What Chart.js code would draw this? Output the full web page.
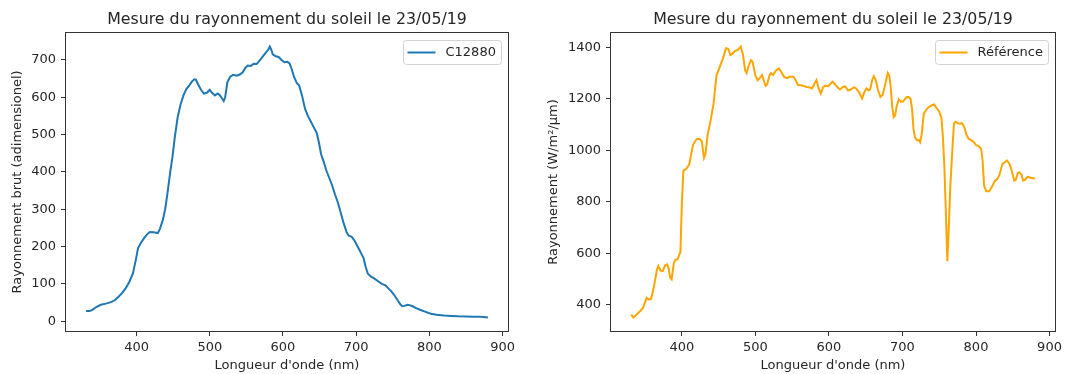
<!DOCTYPE html>
<html lang="fr">
<head>
<meta charset="utf-8">
<title>Mesure du rayonnement du soleil</title>
<script src="https://cdn.jsdelivr.net/npm/chart.js@4"></script>
<style>
  html, body { margin: 0; padding: 0; background: #fff; }
  .wrap { position: relative; width: 1076px; height: 374px; }
  canvas { position: absolute; top: 0; }
  #chartCapteur { left: 0; }
  #chartReference { left: 538px; }
</style>
</head>
<body>
<div class="wrap">
  <canvas id="chartCapteur" width="538" height="374"></canvas>
  <canvas id="chartReference" width="538" height="374"></canvas>
</div>
<script>
// Spectre brut du capteur C12880
const longueursCapteur = [
  331, 336, 340, 345, 351, 358, 365, 370, 375, 380,
  385, 390, 395, 399, 402, 406, 410, 414, 418, 423,
  429, 432, 436, 439, 442, 446, 449, 452, 456, 460,
  464, 468, 472, 476, 479, 481, 484, 488, 492, 496,
  500, 503, 507, 511, 514, 517, 519, 521, 524, 528,
  532, 537, 541, 545, 549, 552, 556, 560, 564, 568,
  572, 576, 580, 582, 584, 586, 590, 594, 598, 602,
  606, 609, 612, 615, 619, 622, 626, 630, 634, 638,
  642, 646, 649, 652, 656, 659, 663, 667, 671, 675,
  679, 683, 687, 690, 694, 698, 702, 706, 710, 713,
  716, 720, 725, 730, 735, 740, 744, 748, 752, 756,
  760, 763, 766, 770, 773, 777, 782, 788, 795, 802,
  810, 820, 830, 840, 850, 860, 870, 880
];
const rayonnementCapteur = [
  27, 27, 31, 38, 44, 47, 51, 56, 65, 75,
  88, 105, 128, 165, 196, 210, 222, 232, 239, 238,
  236, 248, 272, 300, 340, 400, 440, 490, 545, 580,
  605, 622, 632, 643, 648, 647, 635, 620, 610, 612,
  620, 612, 605, 610, 605, 596, 590, 600, 640, 655,
  660, 658, 661, 667, 680, 685, 684, 690, 689, 698,
  708, 718, 728, 736, 728, 715, 710, 708, 700, 694,
  695, 691, 675, 655, 638, 632, 605, 570, 550, 535,
  520, 505, 480, 448, 425, 405, 385, 365, 340, 318,
  290, 262, 238, 229, 226, 215, 200, 185, 170, 145,
  127, 120, 114, 107, 100, 96, 88, 80, 70, 58,
  46, 40, 41, 44, 43, 40, 35, 30, 25, 20,
  17, 15, 14, 13, 12.5, 12, 12, 10
];

// Spectre de référence (W/m²/µm)
const longueursReference = [
  331, 334, 338, 343, 347, 352, 355, 358, 362, 366,
  368, 371, 374, 377, 380, 382, 384, 386, 389, 391,
  394, 396, 398, 400, 402, 406, 410, 415, 420, 424,
  427, 430, 432, 435, 439, 443, 447, 451, 455, 460,
  463, 466, 469, 472, 476, 480, 483, 486, 488, 491,
  494, 496, 500, 503, 506, 509, 512, 514, 516, 519,
  521, 524, 528, 532, 535, 539, 543, 547, 552, 555,
  558, 562, 566, 570, 574, 577, 581, 583, 586, 589,
  592, 595, 599, 602, 605, 609, 612, 615, 619, 622,
  626, 630, 634, 637, 641, 645, 648, 651, 654, 656,
  659, 661, 664, 667, 670, 673, 676, 680, 682, 684,
  686, 688, 690, 692, 695, 698, 701, 705, 708, 711,
  713, 715, 717, 720, 722, 724, 726, 729, 733, 736,
  740, 743, 747, 750, 753, 755, 757, 759, 761, 763,
  765, 768, 770, 772, 775, 778, 781, 784, 787, 790,
  793, 797, 800, 804, 807, 809, 811, 814, 818, 822,
  826, 829, 832, 836, 840, 842, 846, 849, 852, 854,
  857, 859, 862, 864, 867, 870, 874, 878, 880
];
const rayonnementReference = [
  361, 350, 360, 374, 387, 426, 420, 422, 470, 535,
  550, 532, 530, 552, 556, 540, 505, 498, 560, 574,
  576, 590, 605, 800, 921, 928, 945, 1020, 1044, 1044,
  1035, 970, 985, 1060, 1115, 1180, 1290, 1320, 1350, 1396,
  1394, 1370, 1375, 1385, 1390, 1403, 1372, 1310, 1300, 1330,
  1350, 1345, 1290, 1272, 1280, 1292, 1265, 1250, 1256, 1290,
  1300, 1292, 1310, 1318, 1305, 1285, 1280, 1286, 1285, 1270,
  1253, 1252, 1249, 1246, 1244, 1240, 1262, 1272, 1240, 1220,
  1245, 1250, 1249, 1258, 1266, 1253, 1244, 1236, 1246, 1248,
  1232, 1236, 1245, 1240, 1225, 1201, 1225, 1240, 1232, 1236,
  1275, 1288, 1270, 1230, 1207, 1215, 1250, 1300, 1290, 1246,
  1170, 1129, 1135, 1170, 1197, 1188, 1190, 1205, 1207, 1200,
  1160, 1083, 1050, 1038, 1040, 1031, 1060, 1142, 1160, 1168,
  1175, 1178, 1161, 1150, 1125, 1050, 934, 760, 569, 700,
  856, 1010, 1103, 1110, 1105, 1103, 1105, 1090, 1060, 1044,
  1040, 1031, 1020, 1015, 1005, 960, 862, 840, 840, 860,
  882, 888, 905, 947, 955, 960, 945, 915, 882, 885,
  912, 914, 905, 882, 885, 897, 893, 891, 890
];

// Graduations
const ticksX = [400, 500, 600, 700, 800, 900];
const ticksYCapteur = [0, 100, 200, 300, 400, 500, 600, 700];
const ticksYReference = [400, 600, 800, 1000, 1200, 1400];

const titre = 'Mesure du rayonnement du soleil le 23/05/19';
const texte = '#262626';

Chart.defaults.font.family = "'DejaVu Sans', sans-serif";
Chart.defaults.font.size = 13;
Chart.defaults.color = texte;

// marge de 5 % autour des données, comme l'autoscale de matplotlib
function limites(vals) {
  const lo = Math.min(...vals), hi = Math.max(...vals);
  const m = (hi - lo) * 0.05;
  return [lo - m, hi + m];
}

function cheminArrondi(ctx, x, y, w, h, r) {
  ctx.beginPath();
  ctx.moveTo(x + r, y);
  ctx.lineTo(x + w - r, y);
  ctx.arcTo(x + w, y, x + w, y + r, r);
  ctx.lineTo(x + w, y + h - r);
  ctx.arcTo(x + w, y + h, x + w - r, y + h, r);
  ctx.lineTo(x + r, y + h);
  ctx.arcTo(x, y + h, x, y + h - r, r);
  ctx.lineTo(x, y + r);
  ctx.arcTo(x, y, x + r, y, r);
  ctx.closePath();
}

// cadre complet autour de la zone de tracé
const cadre = {
  id: 'cadre',
  afterDatasetsDraw(chart) {
    const { ctx, chartArea: a } = chart;
    ctx.save();
    ctx.strokeStyle = '#333';
    ctx.lineWidth = 1;
    ctx.strokeRect(Math.round(a.left) - 0.5, Math.round(a.top) - 0.5,
      Math.round(a.right - a.left) + 1, Math.round(a.bottom - a.top) + 1);
    ctx.restore();
  }
};

// légende dans le coin haut droit du graphe
const legendeInterne = {
  id: 'legendeInterne',
  afterDraw(chart) {
    const ds = chart.data.datasets[0];
    const { ctx, chartArea: a } = chart;
    ctx.save();
    ctx.font = "13px 'DejaVu Sans', sans-serif";
    const tw = ctx.measureText(ds.label).width;
    const w = Math.round(4 + 28 + 10 + tw + 6), h = 24;
    const x = Math.round(a.right - 7 - w) + 0.5, y = Math.round(a.top + 7) + 0.5;
    cheminArrondi(ctx, x, y, w, h, 3);
    ctx.fillStyle = 'rgba(255,255,255,0.8)';
    ctx.fill();
    ctx.strokeStyle = '#d2d2d2';
    ctx.lineWidth = 1;
    ctx.stroke();
    ctx.strokeStyle = ds.borderColor;
    ctx.lineWidth = 2;
    ctx.beginPath();
    ctx.moveTo(x + 4, y + h / 2);
    ctx.lineTo(x + 32, y + h / 2);
    ctx.stroke();
    ctx.fillStyle = texte;
    ctx.textBaseline = 'middle';
    ctx.fillText(ds.label, x + 42, y + h / 2 + 0.5);
    ctx.restore();
  }
};

function graphe(id, xs, ys, label, couleur, titreY, ticksY, largeurY, padTitreY, padDroite) {
  const [xMin, xMax] = limites(xs);
  const [yMin, yMax] = limites(ys);
  const grille = { drawOnChartArea: false, drawTicks: true, tickLength: 5, color: '#333', tickWidth: 1 };
  return new Chart(document.getElementById(id), {
    type: 'line',
    data: {
      datasets: [{
        label,
        data: xs.map((x, i) => ({ x, y: ys[i] })),
        borderColor: couleur,
        borderWidth: 2,
        pointRadius: 0,
        tension: 0,
        fill: false
      }]
    },
    options: {
      responsive: false,
      animation: false,
      events: [],
      layout: { padding: { left: 0, right: padDroite, top: 0, bottom: 0 } },
      plugins: {
        legend: { display: false },
        tooltip: { enabled: false },
        title: {
          display: true,
          text: titre,
          fullSize: false,
          color: texte,
          font: { size: 15.8, weight: 'normal' },
          padding: { top: 10.5, bottom: 3.5 }
        }
      },
      scales: {
        x: {
          type: 'linear',
          min: xMin,
          max: xMax,
          afterBuildTicks: s => { s.ticks = ticksX.map(v => ({ value: v })); },
          afterFit: s => { s.height = 43; },
          grid: grille,
          border: { display: false },
          ticks: { padding: 4, maxRotation: 0, autoSkip: false, callback: v => String(v) },
          title: { display: true, text: "Longueur d'onde (nm)", padding: { top: 0, bottom: 1 } }
        },
        y: {
          min: yMin,
          max: yMax,
          afterBuildTicks: s => { s.ticks = ticksY.map(v => ({ value: v })); },
          afterFit: s => { s.width = largeurY; },
          grid: grille,
          border: { display: false },
          ticks: { padding: 5, autoSkip: false, callback: v => String(v) },
          title: { display: true, text: titreY, padding: { top: padTitreY, bottom: 0 } }
        }
      }
    },
    plugins: [cadre, legendeInterne]
  });
}

graphe('chartCapteur', longueursCapteur, rayonnementCapteur, 'C12880', '#1f77b4',
  'Rayonnement brut (adimensionel)', ticksYCapteur, 66, 10, 30);
graphe('chartReference', longueursReference, rayonnementReference, 'Référence', '#ffa500',
  'Rayonnement (W/m²/µm)', ticksYReference, 73, 8, 21);
</script>
</body>
</html>
